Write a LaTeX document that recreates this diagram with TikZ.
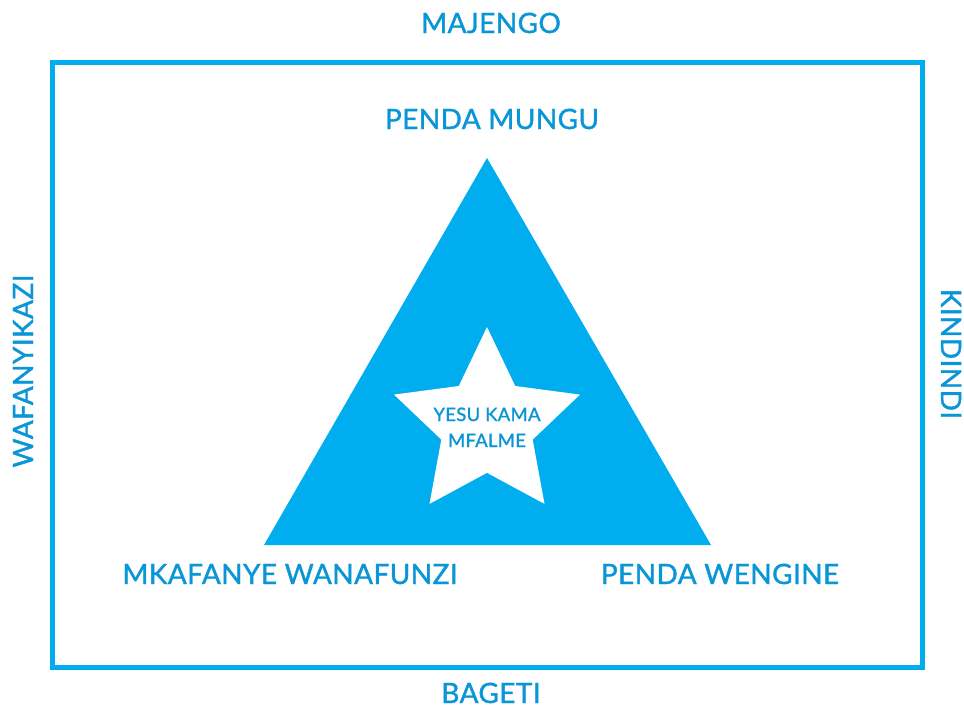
\documentclass[tikz,border=0pt]{standalone}
\usepackage{fontspec}
\setmainfont{Lato}
\newfontfamily\lblfont{Lato}[FakeBold=1.3, LetterSpace=1.5]
\definecolor{boxblue}{RGB}{0,174,239}
\definecolor{textblue}{RGB}{10,150,214}
\tikzset{
  lbl/.style={text=textblue, font=\lblfont\fontsize{28}{28}\selectfont, anchor=base, inner sep=0pt},
  starlbl/.style={text=textblue, font=\lblfont\fontsize{18.5}{19}\selectfont, anchor=base, inner sep=0pt},
}
\begin{document}
\begin{tikzpicture}[x=1pt,y=-1pt]
\useasboundingbox (0,0) rectangle (964,707);
\draw[boxblue, line width=5pt] (52.5,62.5) rectangle (922.5,667.5);
\coordinate (apex) at (487,158);
\coordinate (bl) at (264,545);
\coordinate (br) at (711,545);
\fill[boxblue] (apex) -- (bl) -- (br) -- cycle;
\fill[white] (487,327) -- (515.2,386.0) -- (580.0,394.6) -- (532.7,439.6) -- (544.5,503.9)
  -- (487,472.8) -- (429.5,503.9) -- (441.3,439.6) -- (394.0,394.6) -- (458.8,386.0) -- cycle;
\node[lbl] (majengo) at (491,33) {MAJENGO};
\node[lbl] (mungu) at (492,129) {PENDA MUNGU};
\node[lbl] (mkafanye) at (290,584) {MKAFANYE WANAFUNZI};
\node[lbl] (wengine) at (720,584) {PENDA WENGINE};
\node[lbl] (bageti) at (491,703) {BAGETI};
\node[lbl, rotate=90] (wafanyikazi) at (33,371) {WAFANYIKAZI};
\node[lbl, rotate=-90] (kindindi) at (941,354) {KINDINDI};
\node[starlbl] (yesu) at (487,421) {YESU KAMA};
\node[starlbl] (mfalme) at (487,447) {MFALME};
\end{tikzpicture}
\end{document}
